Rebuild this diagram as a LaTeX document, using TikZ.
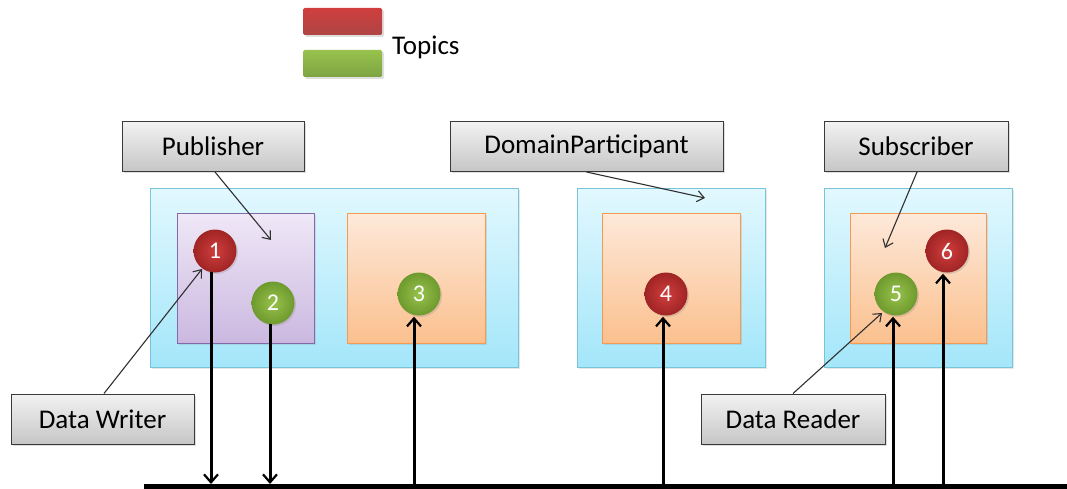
\documentclass[tikz,border=0pt]{standalone}
\usepackage{fontspec}
\setmainfont{Carlito}
\usetikzlibrary{arrows.meta,shadows,calc}

\definecolor{lblTop}{HTML}{F2F2F2}
\definecolor{lblBot}{HTML}{C6C6C6}
\definecolor{lblLine}{HTML}{3A3A3A}
\definecolor{cyTop}{HTML}{E2F8FE}
\definecolor{cyBot}{HTML}{A3E6FA}
\definecolor{cyLine}{HTML}{78C4D8}
\definecolor{puTop}{HTML}{EFE8F7}
\definecolor{puBot}{HTML}{CBB8E0}
\definecolor{puLine}{HTML}{8468A8}
\definecolor{orTop}{HTML}{FDE9DA}
\definecolor{orBot}{HTML}{FBC08E}
\definecolor{orLine}{HTML}{F59A4E}
\definecolor{rdIn}{HTML}{D03E3E}
\definecolor{rdOut}{HTML}{A02424}
\definecolor{gnIn}{HTML}{98C24C}
\definecolor{gnOut}{HTML}{6E9A2E}
\definecolor{ptr}{HTML}{303030}

\tikzset{
  labelbox/.style={draw=lblLine, line width=1pt, top color=lblTop, bottom color=lblBot,
    drop shadow={shadow xshift=2pt, shadow yshift=-2pt, opacity=0.25},
    minimum height=50pt, inner sep=0pt, font=\fontsize{27}{30}\selectfont, text=black},
  domainbox/.style={draw=cyLine, line width=1pt, top color=cyTop, bottom color=cyBot,
    drop shadow={shadow xshift=1.5pt, shadow yshift=-1.5pt, opacity=0.2}, inner sep=0pt},
  pubbox/.style={draw=puLine, line width=1pt, top color=puTop, bottom color=puBot,
    drop shadow={shadow xshift=1.5pt, shadow yshift=-1.5pt, opacity=0.2}, inner sep=0pt},
  entbox/.style={draw=orLine, line width=1pt, top color=orTop, bottom color=orBot,
    drop shadow={shadow xshift=1.5pt, shadow yshift=-1.5pt, opacity=0.2}, inner sep=0pt},
  ball/.style={circle, minimum size=43pt, inner sep=0pt, text=white,
    font=\fontsize{24}{26}\selectfont,
    drop shadow={shadow xshift=1.5pt, shadow yshift=-1.5pt, opacity=0.25}},
  redball/.style={ball, inner color=rdIn, outer color=rdOut},
  greenball/.style={ball, inner color=gnIn, outer color=gnOut},
  topicbar/.style={rounded corners=1.5pt, minimum width=79pt, minimum height=27pt, inner sep=0pt,
    drop shadow={shadow xshift=2pt, shadow yshift=-2pt, opacity=0.25}},
  wire/.style={line width=3pt, draw=black, -{Straight Barb[length=8pt, width=14pt, line width=2.2pt]}},
  pointer/.style={line width=1.1pt, draw=ptr, -{Straight Barb[length=7pt, width=11pt, line width=1.1pt]}},
}

\begin{document}
\begin{tikzpicture}[x=1pt, y=-1pt]
\useasboundingbox (0,0) rectangle (1067,489);

% legend
\node[topicbar, top color=rdIn, bottom color=rdOut!85] (legred) at (342.5,21.5) {};
\node[topicbar, top color=gnIn, bottom color=gnOut!90] (leggreen) at (342.5,63.5) {};
\node[anchor=west, font=\fontsize{27}{30}\selectfont, inner sep=0pt] (topics) at (392,47) {Topics};

% domain containers
\node[domainbox, minimum width=368pt, minimum height=179pt] (dom1) at (334.5,278) {};
\node[domainbox, minimum width=188pt, minimum height=179pt] (dom2) at (671,278) {};
\node[domainbox, minimum width=188pt, minimum height=179pt] (dom3) at (918,278) {};

% publisher and other entities
\node[pubbox, minimum width=137pt, minimum height=130pt] (pub) at (245.5,278) {};
\node[entbox, minimum width=138pt, minimum height=130pt] (ent1) at (416,278) {};
\node[entbox, minimum width=138pt, minimum height=130pt] (ent2) at (671,278) {};
\node[entbox, minimum width=136pt, minimum height=130pt] (sub) at (918,278) {};

% topic instances
\node[redball] (c1) at (215,251) {1};
\node[greenball] (c2) at (273,303) {2};
\node[greenball] (c3) at (419,294) {3};
\node[redball] (c4) at (666,294) {4};
\node[greenball] (c5) at (896,294) {5};
\node[redball] (c6) at (947,251) {6};

% labels
\node[labelbox, minimum width=182pt] (lpub) at (213,146.5) {Publisher};
\node[labelbox, minimum width=273pt] (ldp) at (586.5,146.5) {DomainParticipant};
\node[labelbox, minimum width=184pt] (lsub) at (916,146.5) {Subscriber};
\node[labelbox, minimum width=183pt] (ldw) at (102.5,419) {Data Writer};
\node[labelbox, minimum width=184pt] (ldr) at (793,419) {Data Reader};

% pointer targets
\coordinate (tpub) at (271,240);
\coordinate (tdp) at (705,198);
\coordinate (tsub) at (885,248);
\coordinate (tdw) at (202,269);
\coordinate (tdr) at (882,313);

\draw[pointer] ($(lpub.south)+(2,0)$) -- (tpub);
\draw[pointer] (ldp.south) -- (tdp);
\draw[pointer] ($(lsub.south)+(1,0)$) -- (tsub);
\draw[pointer] ($(ldw.north)+(1.5,0)$) -- (tdw);
\draw[pointer] (ldr.north) -- (tdr);

% bus
\coordinate (busL) at (144,486.5);
\coordinate (busR) at (1067,486.5);
\draw[line width=5.5pt] (busL) -- (busR);

% taps on the bus
\coordinate (b1) at (211,484);
\coordinate (b2) at (270,484);
\coordinate (b3) at (414,484);
\coordinate (b4) at (663,484);
\coordinate (b5) at (893,484);
\coordinate (b6) at (943,484);

\draw[wire] ($(b1 |- c1.south)+(0,-1)$) -- (b1);
\draw[wire] ($(b2 |- c2.south)+(0,-1)$) -- (b2);
\draw[wire] (b3) -- ($(b3 |- c3.south)+(0,1)$);
\draw[wire] (b4) -- ($(b4 |- c4.south)+(0,1)$);
\draw[wire] (b5) -- ($(b5 |- c5.south)+(0,1)$);
\draw[wire] (b6) -- ($(b6 |- c6.south)+(0,1)$);
\end{tikzpicture}
\end{document}
